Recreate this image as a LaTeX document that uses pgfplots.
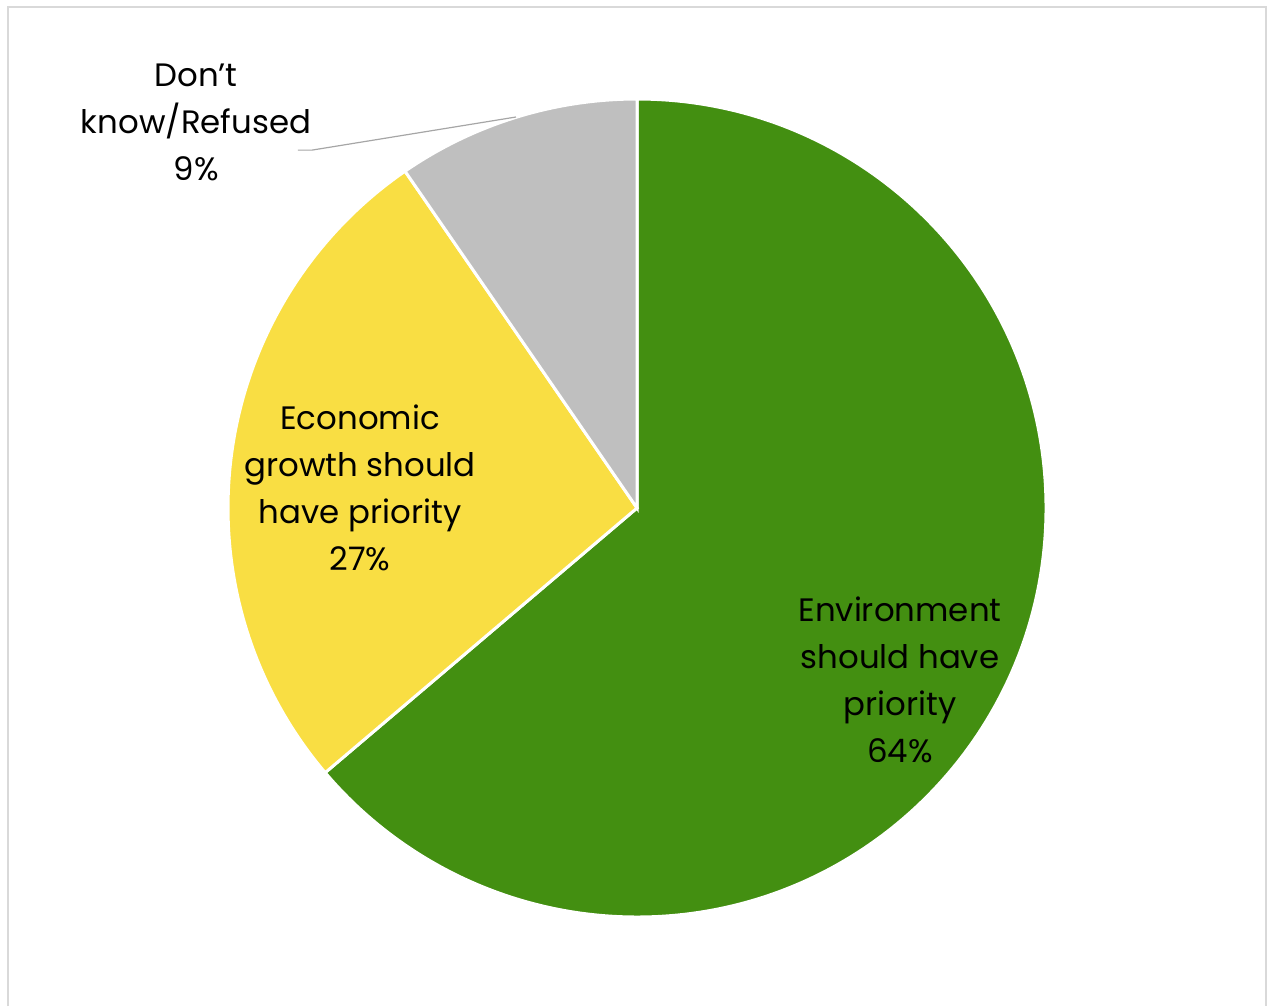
\documentclass[border=0pt]{standalone}
\usepackage{fontspec}
\setmainfont{Poppins}
\usepackage{pgfplots}
\usepackage{pgfplotstable}
\pgfplotsset{compat=1.18}
\definecolor{envgreen}{HTML}{438F11}
\definecolor{ecoyellow}{HTML}{F9DE43}
\definecolor{dkgray}{HTML}{BFBFBF}
\definecolor{framegray}{HTML}{D9D9D9}
\definecolor{leadergray}{HTML}{A6A6A6}
\pgfplotstableread{
label value
Env 63.8
Econ 26.6
DK 9.6
}\piedata
\begin{document}
\begin{tikzpicture}
\pgfplotstablegetelem{0}{value}\of\piedata \let\vA\pgfplotsretval
\pgfplotstablegetelem{1}{value}\of\piedata \let\vB\pgfplotsretval
\pgfplotstablegetelem{2}{value}\of\piedata \let\vC\pgfplotsretval
\pgfmathsetmacro{\aA}{90}
\pgfmathsetmacro{\aB}{90-3.6*\vA}
\pgfmathsetmacro{\aC}{\aB-3.6*\vB}
\pgfmathsetmacro{\aD}{\aC-3.6*\vC}
\begin{axis}[
  x=204.5pt, y=204.5pt,
  xmin=-1.5575, xmax=1.54274,
  ymin=-1.21756, ymax=1.2421,
  hide axis, clip=false,
]
\path (rel axis cs:0,0) rectangle (rel axis cs:1,1);
\draw[framegray, line width=1pt] (axis cs:-1.537,-1.21756) -- (axis cs:-1.537,1.226) -- (axis cs:1.539,1.226) -- (axis cs:1.539,-1.21756);
\filldraw[fill=envgreen, draw=white, line width=1.5pt] (axis cs:0,0) -- ++(\aA:204.5pt) arc[start angle=\aA, end angle=\aB, radius=204.5pt] -- cycle;
\filldraw[fill=ecoyellow, draw=white, line width=1.5pt] (axis cs:0,0) -- ++(\aB:204.5pt) arc[start angle=\aB, end angle=\aC, radius=204.5pt] -- cycle;
\filldraw[fill=dkgray, draw=white, line width=1.5pt] (axis cs:0,0) -- ++(\aC:204.5pt) arc[start angle=\aC, end angle=\aD, radius=204.5pt] -- cycle;
\draw[leadergray, line width=0.6pt] (axis cs:-0.829,0.875) -- (axis cs:-0.795,0.875) -- (axis cs:-0.296,0.956);
\tikzset{lbl/.style={align=center, font=\fontsize{16.2}{23.5}\selectfont, text=black, inner sep=0pt}}
\node[lbl] at (axis cs:-1.078,0.944) {Don’t\\know/Refused\\9\%};
\node[lbl] at (axis cs:-0.677,0.049) {Economic\\growth should\\have priority\\27\%};
\node[lbl] at (axis cs:0.643,-0.421) {Environment\\should have\\priority\\64\%};
\end{axis}
\end{tikzpicture}
\end{document}
